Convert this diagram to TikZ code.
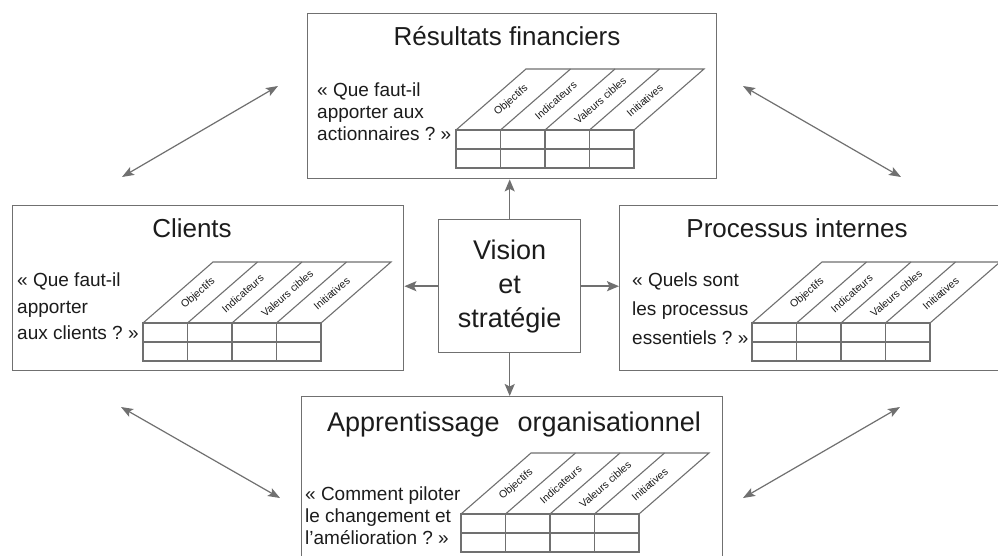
\documentclass[tikz,border=0pt]{standalone}
\usepackage{fontspec}
\setmainfont{Liberation Sans}
\usetikzlibrary{arrows.meta}
\definecolor{linegray}{RGB}{112,112,112}
\definecolor{textdark}{RGB}{28,28,28}
\tikzset{
  box/.style={draw=linegray, line width=1.4pt, inner sep=0pt, anchor=north west},
  tbl/.style={draw=linegray, line width=1.1pt, line join=miter},
  lab/.style={font=\fontsize{10.5}{12}\selectfont, rotate=41, inner sep=0pt, text=textdark},
  ttl/.style={font=\fontsize{26}{30}\selectfont, inner sep=0pt, anchor=base, text=textdark},
  qtext/.style={inner sep=0pt, anchor=north west, align=left, text=textdark},
  arr/.style={draw=linegray, line width=1.5pt, -{Stealth[length=12pt, width=10pt, inset=2.5pt]}},
  darr/.style={draw=linegray, line width=1.2pt, {Stealth[length=12pt, width=9pt, inset=2.5pt]}-{Stealth[length=12pt, width=9pt, inset=2.5pt]}}
}
\newcommand{\bsctable}[3]{%
  \begin{scope}[shift={(#2,#3)}]
    \draw[tbl] (0,0) rectangle (178,38);
    \draw[tbl] (0,19) -- (178,19);
    \foreach \k in {1,2,3} \draw[tbl] (44.5*\k,0) -- (44.5*\k,38);
    \draw[tbl] (0,0) -- (70,-61) -- (248,-61) -- (178,0);
    \foreach \k in {1,2,3} \draw[tbl] (44.5*\k,0) -- ++(70,-61);
    \node[lab] (#1-obj) at (55.25,-29.5) {Objectifs};
    \node[lab] (#1-ind) at (99.75,-29.5) {Indicateurs};
    \node[lab] (#1-val) at (144.25,-29.5) {Valeurs cibles};
    \node[lab] (#1-ini) at (188.75,-29.5) {Initiatives};
  \end{scope}}
\begin{document}
\begin{tikzpicture}[x=1pt, y=-1pt]
  \useasboundingbox (0,0) rectangle (998,555);
  \clip (0,0) rectangle (998,555);
  \fill[white] (0,0) rectangle (998,555);

  % boxes
  \node[box, minimum width=409pt, minimum height=165pt] (fin) at (307,13) {};
  \node[box, minimum width=391pt, minimum height=165pt] (cli) at (12,205) {};
  \node[box, minimum width=400pt, minimum height=165pt] (pro) at (619,205) {};
  \node[box, minimum width=421pt, minimum height=170pt] (app) at (301,396) {};
  \node[box, minimum width=142pt, minimum height=133pt, align=center,
        font=\fontsize{27}{34}\selectfont, text=textdark] (vis) at (438,219) {Vision\\et\\stratégie};

  % titles
  \node[ttl] (fin-t) at (507,45) {Résultats financiers};
  \node[ttl] (cli-t) at (192,237) {Clients};
  \node[ttl] (pro-t) at (797,237) {Processus internes};
  \node[ttl, font=\fontsize{27}{30}\selectfont] (app-t) at (514,431) {Apprentissage\hspace{18pt}organisationnel};

  % questions
  \node[qtext, font=\fontsize{19}{22}\selectfont] (fin-q) at (317,83) {«~Que faut-il\\apporter aux\\actionnaires ?~»};
  \node[qtext, font=\fontsize{19}{26.5}\selectfont] (cli-q) at (17,273) {«~Que faut-il\\apporter\\aux clients ?~»};
  \node[qtext, font=\fontsize{19}{29}\selectfont] (pro-q) at (632,273) {«~Quels sont\\les processus\\essentiels ?~»};
  \node[qtext, font=\fontsize{19}{22}\selectfont] (app-q) at (305,487) {«~Comment piloter\\le changement et\\l’amélioration ?~»};

  % tables
  \bsctable{fin}{456}{130}
  \bsctable{cli}{143}{323}
  \bsctable{pro}{752}{323}
  \bsctable{app}{461}{514}

  % arrows from the centre
  \draw[arr] (vis.north) -- (vis.north |- fin.south);
  \draw[arr] (vis.south) -- (vis.south |- app.north);
  \draw[arr] (vis.west) -- (vis.west -| cli.east);
  \draw[arr] (vis.east) -- (vis.east -| pro.west);

  % diagonal double arrows
  \coordinate (tl1) at (122,177);
  \coordinate (tl2) at (278,86);
  \coordinate (tr1) at (743,86);
  \coordinate (tr2) at (901,177);
  \coordinate (bl1) at (121,407);
  \coordinate (bl2) at (280,498);
  \coordinate (br1) at (743,498);
  \coordinate (br2) at (900,407);
  \draw[darr] (tl1) -- (tl2);
  \draw[darr] (tr1) -- (tr2);
  \draw[darr] (bl1) -- (bl2);
  \draw[darr] (br1) -- (br2);
\end{tikzpicture}
\end{document}
